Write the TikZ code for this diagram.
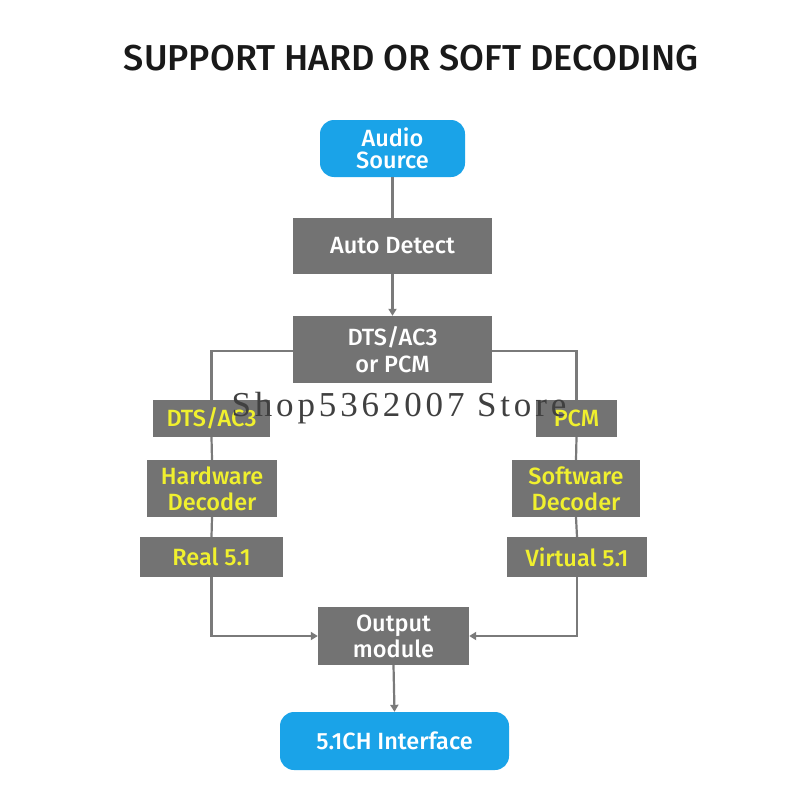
\documentclass[tikz,border=0pt]{standalone}
\usepackage{fontspec}
\setmainfont{Fira Sans}[UprightFont={* Medium}]
\newfontfamily\wmfont{Liberation Serif}[LetterSpace=11]
\usetikzlibrary{arrows.meta}
\definecolor{gbox}{HTML}{737373}
\definecolor{bbox}{HTML}{1AA3E8}
\definecolor{ytext}{HTML}{F0F02E}
\definecolor{lcol}{HTML}{7A7A7A}
\begin{document}
\begin{tikzpicture}[x=1pt,y=-1pt,
  bf/.style={font=\fontsize{23.5}{25}\selectfont},
  gb/.style={bf,fill=gbox,text=white,align=center,inner sep=0},
  yb/.style={bf,fill=gbox,text=ytext,align=center,inner sep=0},
  bb/.style={bf,fill=bbox,text=white,rounded corners=14pt,align=center,inner sep=0},
  ln/.style={draw=lcol,line width=2.2pt},
  ar/.style={ln,-{Triangle[length=7pt,width=8pt]}}]
\useasboundingbox (0,0) rectangle (800,800);
\fill[white] (0,0) rectangle (800,800);
\node[text=black!90] (title) at (411,58) {\fontsize{36}{38}\selectfont SUPPORT HARD OR SOFT DECODING};
\node[bb,minimum width=145,minimum height=57] (src) at (392.5,148.5) {Audio\\[-3pt]Source};
\node[gb,minimum width=199,minimum height=56] (auto) at (392.5,246) {Auto Detect};
\node[gb,minimum width=199,minimum height=67] (dts) at (392.5,349.5) {DTS/AC3\\[2pt]or PCM};
\node[yb,minimum width=117,minimum height=37] (ldts) at (211.5,418.5) {DTS/AC3};
\node[yb,minimum width=81,minimum height=37] (rpcm) at (576.5,418.5) {PCM};
\node[yb,minimum width=130,minimum height=57] (hw) at (212,488.5) {Hardware\\[1pt]Decoder};
\node[yb,minimum width=128,minimum height=57] (sw) at (576,488.5) {Software\\[1pt]Decoder};
\node[yb,minimum width=143,minimum height=40] (real) at (211.5,557) {Real 5.1};
\node[yb,minimum width=140,minimum height=40] (virt) at (577,557) {Virtual 5.1};
\node[gb,minimum width=151,minimum height=58] (out) at (393.5,636) {Output\\[1pt]module};
\node[bb,minimum width=229,minimum height=58] (iface) at (394.5,741) {5.1CH Interface};
\draw[ln] (src.south) -- (auto.north);
\draw[ar] (auto.south) -- (dts.north);
\draw[ln] (dts.west |- 0,351) -| (ldts.north);
\draw[ln] (dts.east |- 0,351) -| (rpcm.north);
\draw[ln] (ldts.south) -- (hw.north);
\draw[ln] (hw.south) -- (real.north);
\draw[ln] (rpcm.south) -- (sw.north);
\draw[ln] (sw.south) -- (virt.north);
\draw[ar] (real.south) |- (out.west);
\draw[ar] (virt.south) |- (out.east);
\draw[ar] (out.south) -- (iface.north);
\node[text=black!75,font=\wmfont\fontsize{35}{36}\selectfont] (wm) at (399,408) {Shop5362007 Store};
\end{tikzpicture}
\end{document}
